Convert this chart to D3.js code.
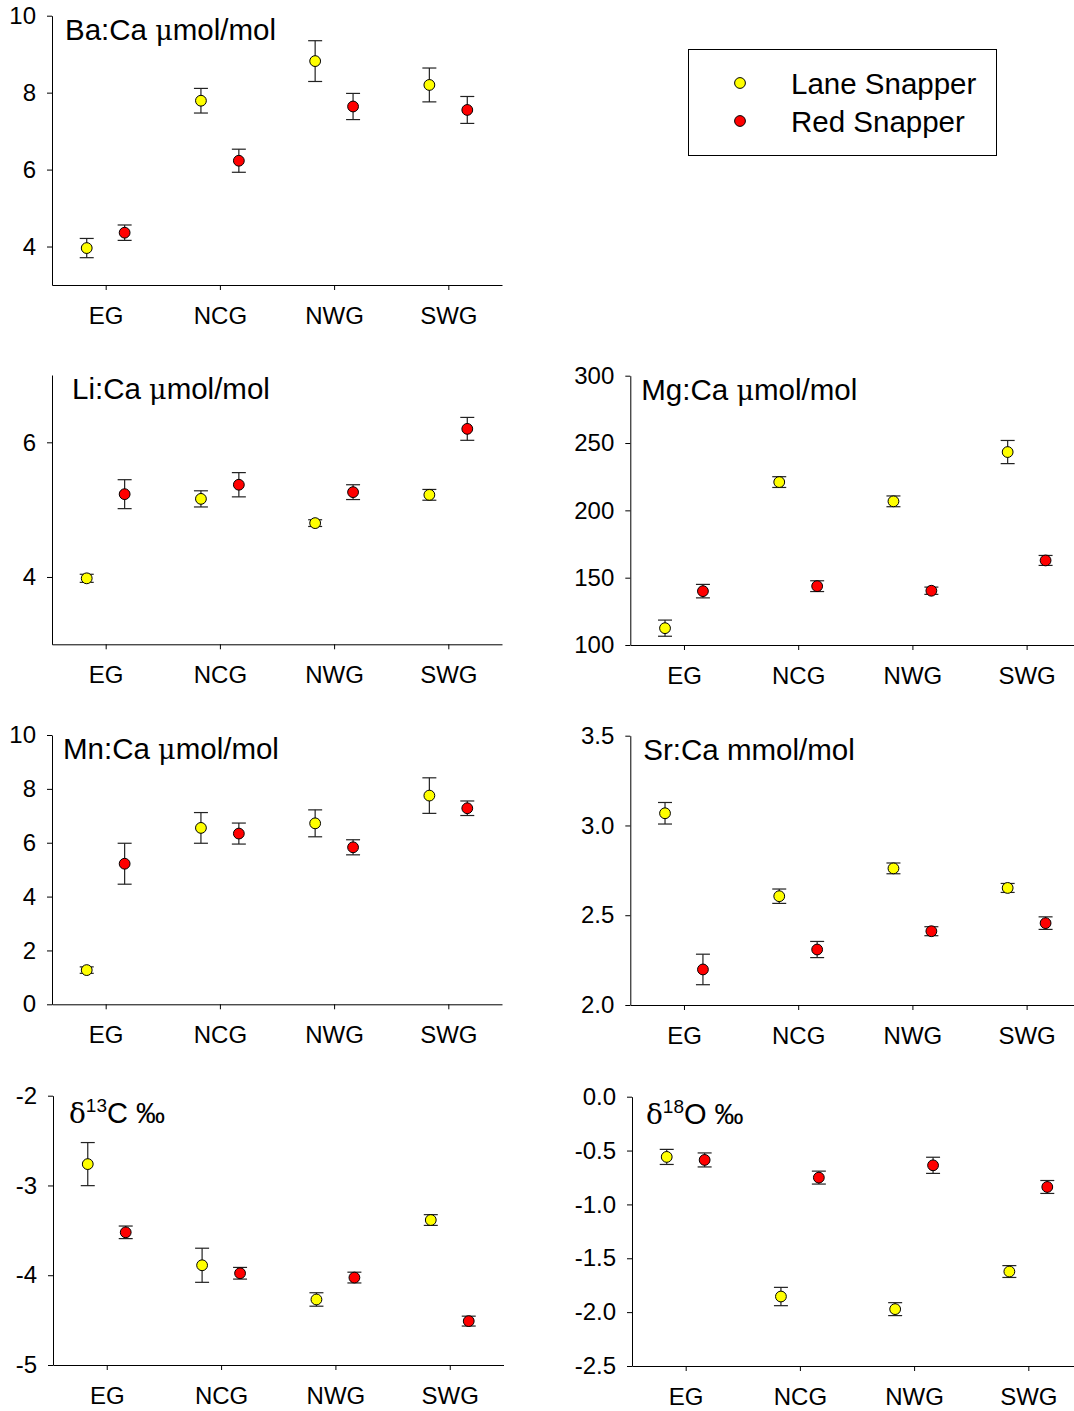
<!DOCTYPE html>
<html>
<head>
<meta charset="utf-8">
<script src="https://cdnjs.cloudflare.com/ajax/libs/d3/7.8.5/d3.min.js"></script>
<style>
  html, body { margin: 0; padding: 0; background: #fff; overflow: hidden; }
  svg { display: block; }
  text { font-family: "Liberation Sans", Arial, sans-serif; fill: #000; }
</style>
</head>
<body>
<svg id="chart" width="1074" height="1411"></svg>
<script>
// ---- data ----
const regions = ["EG", "NCG", "NWG", "SWG"];
const species = ["Lane Snapper", "Red Snapper"];

const baLane = [3.96, 7.79, 8.82, 8.20];
const baLaneErr = [0.25, 0.32, 0.53, 0.44];
const baRed = [4.36, 6.23, 7.64, 7.55];
const baRedErr = [0.20, 0.30, 0.34, 0.35];
const baTicks = [4, 6, 8, 10];

const liLane = [3.98, 5.16, 4.80, 5.22];
const liLaneErr = [0.06, 0.12, 0.05, 0.08];
const liRed = [5.23, 5.37, 5.26, 6.20];
const liRedErr = [0.215, 0.18, 0.11, 0.17];
const liTicks = [4, 6];

const mgLane = [112.5, 221, 206.7, 243.3];
const mgLaneErr = [6, 4, 4, 8.6];
const mgRed = [140, 143.7, 140.3, 162.8];
const mgRedErr = [5, 4, 2.7, 3.7];
const mgTicks = [100, 150, 200, 250, 300];

const mnLane = [1.27, 6.55, 6.72, 7.75];
const mnLaneErr = [0.12, 0.57, 0.50, 0.66];
const mnRed = [5.22, 6.34, 5.83, 7.28];
const mnRedErr = [0.76, 0.39, 0.28, 0.27];
const mnTicks = [0, 2, 4, 6, 8, 10];

const srLane = [3.068, 2.606, 2.761, 2.652];
const srLaneErr = [0.06, 0.04, 0.03, 0.025];
const srRed = [2.198, 2.309, 2.411, 2.456];
const srRedErr = [0.085, 0.045, 0.025, 0.035];
const srTicks = [2.0, 2.5, 3.0, 3.5];

const c13Lane = [-2.762, -3.889, -4.27, -3.385];
const c13LaneErr = [0.24, 0.19, 0.075, 0.06];
const c13Red = [-3.522, -3.978, -4.026, -4.511];
const c13RedErr = [0.07, 0.065, 0.06, 0.055];
const c13Ticks = [-5, -4, -3, -2];

const o18Lane = [-0.559, -1.855, -1.972, -1.623];
const o18LaneErr = [0.07, 0.085, 0.06, 0.055];
const o18Red = [-0.587, -0.751, -0.637, -0.838];
const o18RedErr = [0.065, 0.06, 0.075, 0.06];
const o18Ticks = [-2.5, -2.0, -1.5, -1.0, -0.5, 0.0];

// hyphen-minus formatting like the original
const fmtInt = d => d3.format("d")(d).replace("\u2212", "-");
const fmt1 = d => d3.format(".1f")(d).replace("\u2212", "-");

// ---- panel definitions (data + layout) ----
const panels = [
  { title: ["Ba:Ca ", "μ", "mol/mol"], lane: baLane, laneErr: baLaneErr, red: baRed, redErr: baRedErr,
    domain: [3, 10], ticks: baTicks, fmt: fmtInt,
    x0: 52, x1: 502, y0: 15.7, y1: 285, tx: 13, ty: 24 },
  { title: ["Li:Ca ", "μ", "mol/mol"], lane: liLane, laneErr: liLaneErr, red: liRed, redErr: liRedErr,
    domain: [3, 7], ticks: liTicks, fmt: fmtInt,
    x0: 52, x1: 502, y0: 375, y1: 644.3, tx: 20, ty: 24 },
  { title: ["Mg:Ca ", "μ", "mol/mol"], lane: mgLane, laneErr: mgLaneErr, red: mgRed, redErr: mgRedErr,
    domain: [100, 300], ticks: mgTicks, fmt: fmtInt,
    x0: 630.3, x1: 1080.3, y0: 375.7, y1: 645, tx: 11, ty: 24.5 },
  { title: ["Mn:Ca ", "μ", "mol/mol"], lane: mnLane, laneErr: mnLaneErr, red: mnRed, redErr: mnRedErr,
    domain: [0, 10], ticks: mnTicks, fmt: fmtInt,
    x0: 52, x1: 502, y0: 735, y1: 1004.3, tx: 11, ty: 24 },
  { title: ["Sr:Ca mmol/mol"], lane: srLane, laneErr: srLaneErr, red: srRed, redErr: srRedErr,
    domain: [2, 3.5], ticks: srTicks, fmt: fmt1,
    x0: 630.3, x1: 1080.3, y0: 735.7, y1: 1005, tx: 13, ty: 24.5 },
  { delta: ["δ", "13", "C ‰"], lane: c13Lane, laneErr: c13LaneErr, red: c13Red, redErr: c13RedErr,
    domain: [-5, -2], ticks: c13Ticks, fmt: fmtInt,
    x0: 53, x1: 503.5, y0: 1095.7, y1: 1365, tx: 16, ty: 27.5 },
  { delta: ["δ", "18", "O ‰"], lane: o18Lane, laneErr: o18LaneErr, red: o18Red, redErr: o18RedErr,
    domain: [-2.5, 0], ticks: o18Ticks, fmt: fmt1,
    x0: 632, x1: 1082, y0: 1096.7, y1: 1366, tx: 14, ty: 27 }
];

const colors = { lane: "#ffff00", red: "#ff0000" };
const R = 5.4;
const capHalf = 7;

const svg = d3.select("#chart");

panels.forEach(p => {
  const g = svg.append("g");
  const x = d3.scalePoint().domain(regions).range([p.x0, p.x1]).padding(0.47);
  const y = d3.scaleLinear().domain(p.domain).range([p.y1, p.y0]);
  const off = x.step() * 0.166;

  // y axis
  const yAx = g.append("g").attr("transform", `translate(${p.x0},0)`)
    .call(d3.axisLeft(y).tickValues(p.ticks).tickFormat(p.fmt).tickSize(5).tickPadding(11).tickSizeOuter(0));
  yAx.select(".domain").attr("stroke", "#000").attr("stroke-width", 1);
  yAx.selectAll(".tick line").attr("stroke", "#000");
  yAx.selectAll(".tick text").attr("font-size", 24).attr("font-family", "Liberation Sans, Arial, sans-serif").attr("fill", "#000");

  // x axis
  const xAx = g.append("g").attr("transform", `translate(0,${p.y1})`)
    .call(d3.axisBottom(x).tickSize(5).tickPadding(17).tickSizeOuter(0));
  xAx.select(".domain").attr("stroke", "#000").attr("stroke-width", 1);
  xAx.selectAll(".tick line").attr("stroke", "#000");
  xAx.selectAll(".tick text").attr("font-size", 24).attr("font-family", "Liberation Sans, Arial, sans-serif").attr("fill", "#000");

  // title
  const t = g.append("text").attr("x", p.x0 + p.tx).attr("y", p.y0 + p.ty).attr("font-size", 29.5);
  if (p.title) {
    p.title.forEach(s => {
      const ts = t.append("tspan").text(s);
      if (s === "μ") ts.attr("font-family", "DejaVu Serif, Liberation Serif, serif").attr("font-size", 27);
    });
  } else {
    t.attr("font-size", 29);
    t.append("tspan").text(p.delta[0]).attr("font-family", "DejaVu Serif, Liberation Serif, serif").attr("font-size", 28);
    t.append("tspan").text(p.delta[1]).attr("font-size", 19).attr("dy", -11);
    t.append("tspan").text(p.delta[2]).attr("dy", 11);
  }

  const series = [
    { vals: p.lane, errs: p.laneErr, dx: -off, color: colors.lane },
    { vals: p.red, errs: p.redErr, dx: off, color: colors.red }
  ];
  series.forEach(s => {
    const sg = g.append("g");
    regions.forEach((r, i) => {
      const cx = x(r) + s.dx;
      const v = s.vals[i], e = s.errs[i];
      const yt = y(v + e), yb = y(v - e);
      sg.append("line").attr("x1", cx).attr("x2", cx).attr("y1", yt).attr("y2", yb)
        .attr("stroke", "#222").attr("stroke-width", 1.2);
      sg.append("line").attr("x1", cx - capHalf).attr("x2", cx + capHalf).attr("y1", yt).attr("y2", yt)
        .attr("stroke", "#222").attr("stroke-width", 1.2);
      sg.append("line").attr("x1", cx - capHalf).attr("x2", cx + capHalf).attr("y1", yb).attr("y2", yb)
        .attr("stroke", "#222").attr("stroke-width", 1.2);
      sg.append("circle").attr("cx", cx).attr("cy", y(v)).attr("r", R)
        .attr("fill", s.color).attr("stroke", "#000").attr("stroke-width", 1);
    });
  });
});

// legend
const lg = svg.append("g");
lg.append("rect").attr("x", 688.5).attr("y", 49.5).attr("width", 308).attr("height", 106)
  .attr("fill", "#fff").attr("stroke", "#000").attr("stroke-width", 1);
const legColors = [colors.lane, colors.red];
species.forEach((s, i) => {
  const cy = 83 + i * 38;
  lg.append("circle").attr("cx", 740).attr("cy", cy).attr("r", R)
    .attr("fill", legColors[i]).attr("stroke", "#000").attr("stroke-width", 1);
  lg.append("text").attr("x", 791).attr("y", cy + 10.5).attr("font-size", 29.5).text(s);
});
</script>
</body>
</html>
